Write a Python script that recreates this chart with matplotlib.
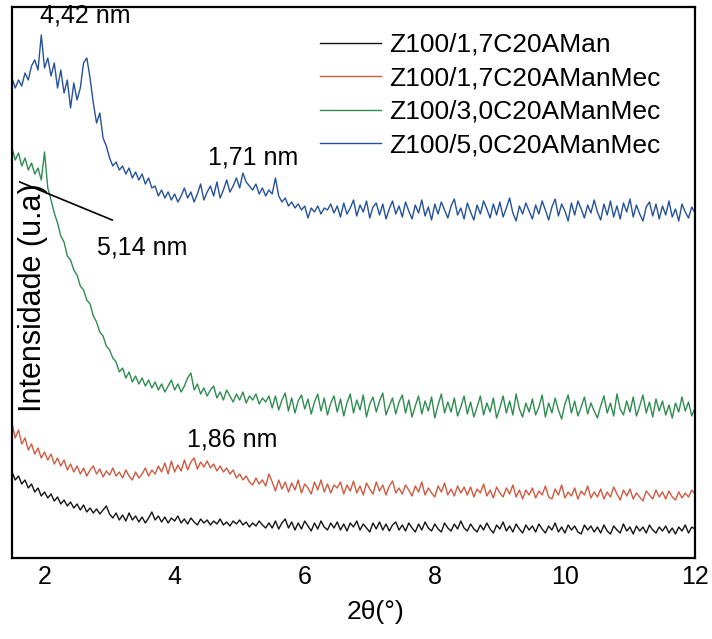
import numpy as np
import matplotlib
matplotlib.use("Agg")
import matplotlib.pyplot as plt

plt.rcParams['font.family'] = ['Liberation Sans', 'DejaVu Sans']

# XRD intensities (arbitrary units), 2theta from 1.5 to 12 deg, step 0.05
labels = ['Z100/1,7C20AMan', 'Z100/1,7C20AManMec',
          'Z100/3,0C20AManMec', 'Z100/5,0C20AManMec']
colors = ['#141414', '#cf5a40', '#2f8c50', '#24529c']

black = [
    86, 78, 82, 74, 78, 70, 74, 66, 70, 62, 66, 60, 64, 57, 61, 54, 58, 52, 56, 50,
    54, 48, 53, 46, 50, 45, 49, 44, 48, 52, 44, 40, 45, 38, 43, 37, 45, 38, 42, 36,
    41, 35, 40, 46, 38, 42, 36, 41, 35, 40, 37, 42, 35, 39, 34, 40, 36, 33, 39, 35,
    38, 33, 37, 34, 39, 33, 36, 32, 37, 34, 38, 33, 36, 31, 35, 32, 37, 33, 30, 35,
    30, 37, 29, 35, 39, 30, 36, 28, 35, 29, 37, 32, 27, 35, 29, 37, 31, 28, 35, 30,
    36, 28, 34, 27, 35, 31, 37, 28, 34, 30, 26, 35, 29, 36, 28, 34, 27, 33, 36, 28,
    33, 27, 35, 30, 26, 34, 28, 36, 30, 27, 34, 29, 26, 35, 30, 27, 34, 29, 37, 30,
    27, 34, 29, 26, 33, 28, 35, 29, 25, 33, 29, 36, 27, 32, 26, 34, 29, 25, 33, 28,
    32, 26, 34, 29, 25, 32, 28, 35, 26, 31, 25, 33, 28, 32, 26, 24, 33, 28, 32, 26,
    31, 25, 33, 27, 24, 32, 28, 25, 34, 27, 31, 24, 32, 27, 31, 25, 33, 28, 25, 31,
    27, 32, 25, 30, 24, 31, 27, 33, 25, 31, 29]

red = [
    135, 120, 128, 114, 120, 108, 114, 104, 110, 100, 106, 98, 104, 94, 100, 92, 98, 88, 94, 86,
    92, 84, 90, 82, 88, 92, 84, 89, 81, 87, 83, 90, 82, 86, 80, 88, 82, 78, 86, 80,
    84, 90, 82, 88, 84, 92, 86, 95, 84, 97, 86, 93, 87, 98, 88, 96, 100, 89, 96, 91,
    97, 90, 94, 87, 92, 86, 90, 84, 88, 80, 84, 78, 82, 76, 73, 80, 74, 78, 72, 84,
    76, 67, 78, 69, 76, 66, 75, 68, 78, 65, 74, 70, 64, 76, 68, 78, 66, 74, 65, 73,
    70, 76, 64, 73, 67, 77, 65, 72, 63, 75, 69, 64, 76, 67, 73, 63, 72, 77, 65, 70,
    64, 73, 68, 62, 72, 66, 76, 63, 70, 65, 61, 72, 66, 75, 63, 69, 62, 72, 65, 71,
    63, 71, 61, 69, 65, 74, 62, 68, 60, 71, 65, 61, 70, 64, 73, 61, 68, 59, 68, 63,
    70, 60, 67, 63, 72, 61, 59, 69, 63, 73, 60, 66, 62, 70, 59, 67, 63, 72, 60, 66,
    61, 69, 59, 66, 61, 71, 64, 58, 68, 62, 69, 59, 65, 61, 57, 67, 63, 59, 68, 61,
    66, 59, 67, 61, 58, 66, 60, 65, 61, 68, 64]

green = [
    410, 398, 405, 392, 400, 388, 395, 384, 390, 378, 406, 370, 358, 345, 335, 322, 316, 302, 298, 288,
    283, 272, 268, 258, 254, 242, 236, 226, 222, 212, 208, 200, 196, 186, 190, 180, 186, 176, 182, 174,
    180, 172, 178, 170, 176, 168, 174, 166, 172, 178, 168, 174, 166, 172, 180, 185, 168, 174, 164, 170,
    162, 168, 172, 160, 166, 158, 168, 162, 156, 164, 158, 166, 155, 162, 158, 164, 154, 160, 156, 162,
    150, 162, 148, 158, 165, 147, 160, 145, 157, 163, 149, 159, 144, 156, 164, 147, 160, 143, 155, 162,
    146, 159, 142, 155, 164, 145, 158, 148, 163, 141, 154, 161, 146, 157, 165, 143, 152, 160, 144, 156,
    163, 145, 158, 141, 152, 162, 144, 157, 147, 161, 140, 153, 164, 145, 156, 146, 160, 142, 151, 162,
    144, 156, 141, 151, 162, 143, 155, 146, 160, 140, 150, 162, 145, 157, 143, 164, 149, 141, 155, 146,
    159, 143, 151, 163, 141, 155, 145, 160, 148, 139, 154, 163, 145, 157, 142, 151, 161, 144, 155, 147,
    140, 152, 162, 145, 155, 142, 164, 149, 143, 157, 146, 161, 142, 152, 163, 145, 156, 141, 159, 147,
    157, 143, 153, 140, 155, 146, 161, 147, 156, 142, 150]

blue = [
    480, 470, 478, 472, 485, 478, 492, 498, 488, 523, 490, 500, 482, 495, 470, 488, 465, 478, 450, 475,
    458, 470, 495, 500, 480, 455, 435, 445, 420, 412, 400, 392, 396, 388, 392, 384, 390, 380, 386, 378,
    384, 374, 380, 370, 372, 362, 368, 360, 366, 358, 364, 356, 362, 370, 360, 366, 356, 364, 374, 358,
    366, 372, 362, 376, 360, 368, 378, 366, 372, 380, 370, 385, 376, 372, 368, 374, 364, 370, 362, 368,
    364, 380, 362, 356, 360, 352, 356, 350, 354, 348, 352, 340, 350, 346, 352, 344, 350, 348, 354, 345,
    352, 341, 355, 344, 350, 358, 342, 353, 346, 357, 340, 351, 355, 343, 354, 339, 349, 357, 344, 352,
    341, 356, 347, 339, 353, 345, 358, 342, 351, 338, 354, 344, 356, 348, 340, 352, 359, 343, 350, 339,
    355, 346, 338, 353, 344, 357, 349, 340, 354, 343, 356, 341, 350, 360, 345, 337, 352, 344, 355, 347,
    339, 353, 344, 357, 348, 338, 351, 359, 342, 354, 347, 337, 355, 343, 357, 349, 340, 353, 345, 358,
    346, 338, 354, 343, 357, 341, 352, 339, 355, 346, 359, 341, 353, 344, 337, 351, 356, 342, 354, 339,
    352, 343, 357, 341, 349, 337, 354, 346, 340, 351, 345]

series = [black, red, green, blue]

# peak labels: text, 2theta position, intensity position
peak_text = ['4,42 nm', '1,71 nm', '5,14 nm', '1,86 nm']
peak_x = [1.93, 4.51, 2.81, 4.19]
peak_y = [543, 400, 310, 118]

fig = plt.figure(figsize=(7.12, 6.39), dpi=100)
ax = fig.add_axes([12/712, 1-558/639, 683/712, 551/639])

for y, c, lab in zip(series, colors, labels):
    x = np.linspace(1.5, 12, len(y))
    ax.plot(x, y, color=c, lw=1.0, label=lab)

for t, px, py in zip(peak_text, peak_x, peak_y):
    ax.text(px, py, t, fontsize=18, ha='left', va='center')

# pointer line for the 5,14 nm peak
ax.plot([1.62, 3.04], [376, 338], color='black', lw=1.2)

ax.text(0.031, 0.472, 'Intensidade (u.a)', transform=ax.transAxes,
        rotation=90, fontsize=22, ha='center', va='center')

ax.set_xlim(1.5, 12)
ax.set_ylim(0, 551)
ax.set_xticks([2, 4, 6, 8, 10, 12])
ax.tick_params(axis='x', length=0, pad=5, labelsize=18)
ax.set_yticks([])
for s in ax.spines.values():
    s.set_linewidth(1.6)

fig.text(376/712, 1-612/639, '2θ(°)', fontsize=19, ha='center', va='center')

ax.legend(loc='upper left', bbox_to_anchor=(0.451, 0.953), frameon=False,
          fontsize=19, handlelength=2.3, handletextpad=0.3, labelspacing=0.36,
          borderpad=0, borderaxespad=0)

fig.savefig('out.png', dpi=100)
